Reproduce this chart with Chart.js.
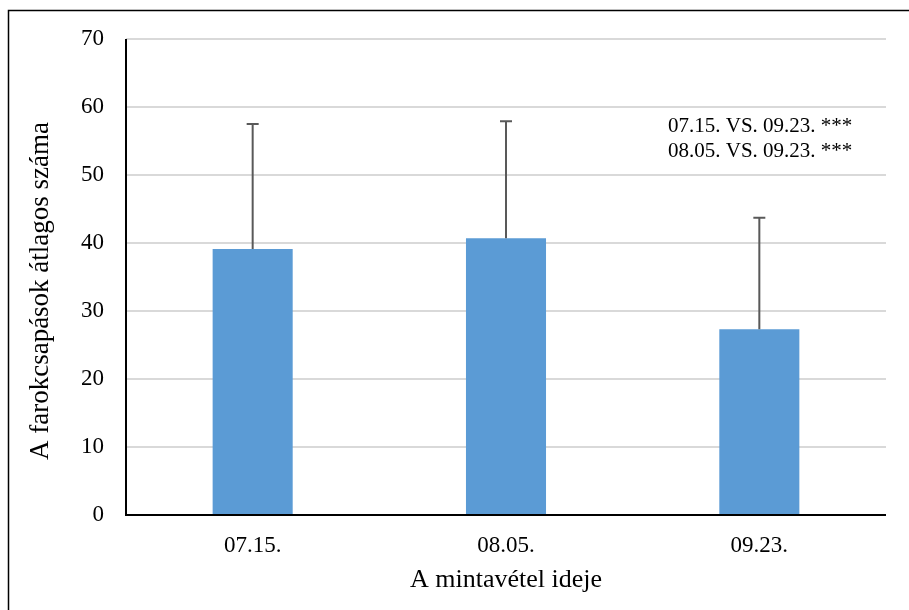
<!DOCTYPE html>
<html>
<head>
<meta charset="utf-8">
<script src="https://cdn.jsdelivr.net/npm/chart.js@4.4.0/dist/chart.umd.min.js"></script>
<style>
html,body{margin:0;padding:0;background:#fff;}
#wrap{width:909px;height:610px;position:relative;}
</style>
</head>
<body>
<div id="wrap"><canvas id="c" width="909" height="610"></canvas></div>
<script>
const categories = ["07.15.", "08.05.", "09.23."];
const means = [39.1, 40.7, 27.3];
const errorsUp = [18.4, 17.2, 16.4];
const yTicks = [0, 10, 20, 30, 40, 50, 60, 70];
const annotationLines = ["07.15. VS. 09.23. ***", "08.05. VS. 09.23. ***"];
const xTitle = "A mintavétel ideje";
const yTitle = "A farokcsapások átlagos száma";

const FONT = "'Liberation Serif', 'Times New Roman', serif";

const extrasPlugin = {
  id: 'extras',
  afterDatasetsDraw(chart) {
    const ctx = chart.ctx;
    const xs = chart.scales.x, ys = chart.scales.y;
    ctx.save();
    ctx.strokeStyle = '#595959';
    ctx.lineWidth = 2;
    means.forEach((m, i) => {
      const x = xs.getPixelForValue(i);
      const y0 = ys.getPixelForValue(m);
      const y1 = ys.getPixelForValue(m + errorsUp[i]);
      ctx.beginPath();
      ctx.moveTo(x, y0);
      ctx.lineTo(x, y1);
      ctx.moveTo(x - 6, y1);
      ctx.lineTo(x + 6, y1);
      ctx.stroke();
    });
    // axis lines
    const a = chart.chartArea;
    ctx.strokeStyle = '#000';
    ctx.lineWidth = 2;
    ctx.beginPath();
    ctx.moveTo(a.left, a.top);
    ctx.lineTo(a.left, a.bottom);
    ctx.lineTo(a.right, a.bottom);
    ctx.stroke();
    // y axis title
    ctx.fillStyle = '#000';
    ctx.save();
    ctx.translate(41, 291);
    ctx.rotate(-Math.PI / 2);
    ctx.font = "27px " + FONT;
    ctx.textAlign = 'center';
    ctx.textBaseline = 'middle';
    ctx.fillText(yTitle, 0, 0);
    ctx.restore();
    // annotation
    ctx.font = "21px " + FONT;
    ctx.textAlign = 'left';
    ctx.textBaseline = 'alphabetic';
    annotationLines.forEach((t, i) => {
      ctx.fillText(t, 668, 132 + i * 25);
    });
    // outer border
    ctx.strokeStyle = '#000';
    ctx.lineWidth = 1.5;
    ctx.strokeRect(8.5, 10.5, 910, 610);
    ctx.restore();
  }
};

new Chart(document.getElementById('c'), {
  type: 'bar',
  data: {
    labels: categories,
    datasets: [{
      data: means,
      backgroundColor: '#5B9BD5',
      borderWidth: 0,
      barPercentage: 0.316,
      categoryPercentage: 1.0
    }]
  },
  options: {
    responsive: false,
    animation: false,
    devicePixelRatio: 1,
    layout: { padding: { left: 10, top: 39, right: 23, bottom: 8 } },
    plugins: { legend: { display: false }, tooltip: { enabled: false } },
    scales: {
      x: {
        grid: { display: false, drawTicks: false },
        border: { display: false },
        ticks: { color: '#000', font: { family: FONT, size: 23 }, padding: 17 },
        title: { display: true, text: xTitle, color: '#000', font: { family: FONT, size: 26 }, padding: { top: 6, bottom: 6 } },
        afterFit(s) { s.height = 610 - 515 - 8; }
      },
      y: {
        min: 0, max: 70,
        afterBuildTicks(s) { s.ticks = yTicks.map(v => ({ value: v })); },
        grid: { color: '#D9D9D9', lineWidth: 2, drawTicks: false },
        border: { display: false },
        ticks: { color: '#000', font: { family: FONT, size: 23 }, padding: 22 },
        title: { display: false },
        afterFit(s) { s.width = 126 - 10; }
      }
    }
  },
  plugins: [extrasPlugin]
});
</script>
</body>
</html>
